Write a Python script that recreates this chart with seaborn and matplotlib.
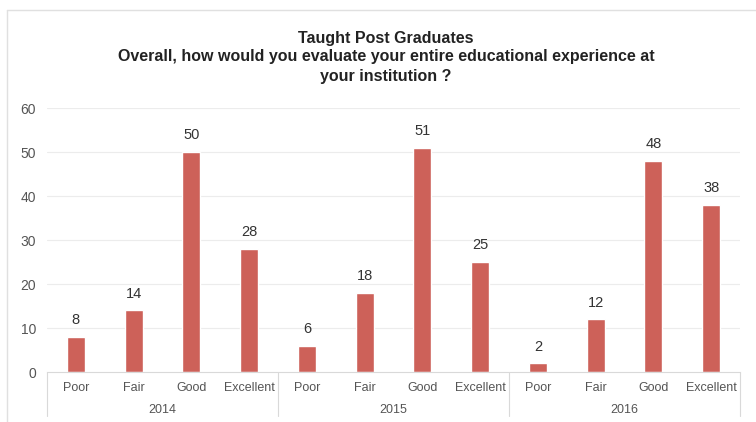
import matplotlib
matplotlib.use("Agg")
import matplotlib.pyplot as plt
import matplotlib.transforms as mtransforms
from matplotlib.lines import Line2D
import seaborn as sns
import pandas as pd

years = ["2014", "2015", "2016"]
ratings = ["Poor", "Fair", "Good", "Excellent"]
values_2014 = [8, 14, 50, 28]
values_2015 = [6, 18, 51, 25]
values_2016 = [2, 12, 48, 38]
y_ticks = [0, 10, 20, 30, 40, 50, 60]
title_lines = [
    "Taught Post Graduates",
    "Overall, how would you evaluate your entire educational experience at",
    "your institution ?",
]

rows = []
for year, vals in zip(years, [values_2014, values_2015, values_2016]):
    for rating, v in zip(ratings, vals):
        rows.append({"slot": f"{year} {rating}", "year": year, "rating": rating, "value": v})
df = pd.DataFrame(rows)
order = list(df["slot"])

sns.set_theme(style="white")
plt.rcParams["font.family"] = ["Liberation Sans", "DejaVu Sans"]

fig = plt.figure(figsize=(7.56, 4.22), dpi=100)
ax = fig.add_axes([47 / 756, (422 - 372) / 422, (740 - 47) / 756, (372 - 108) / 422])

sns.barplot(data=df, x="slot", y="value", order=order, color="#cd6159",
            width=0.31, saturation=1, ax=ax, errorbar=None)

ax.set_xlim(-0.5, len(order) - 0.5)
ax.set_ylim(0, 60)
ax.set_yticks(y_ticks)
ax.set_yticklabels([str(t) for t in y_ticks], color="#555555", fontsize=10)
ax.set_xticks(range(len(order)))
ax.set_xticklabels(list(df["rating"]), color="#555555", fontsize=9)
ax.tick_params(axis="x", length=0, pad=7)
ax.tick_params(axis="y", length=0, pad=8)
ax.set_xlabel("")
ax.set_ylabel("")

for s in ["top", "right", "left"]:
    ax.spines[s].set_visible(False)
ax.spines["bottom"].set_color("#d9d9d9")
ax.spines["bottom"].set_linewidth(0.8)

for t in y_ticks[1:]:
    ax.axhline(t, color="#ececec", linewidth=0.8, zorder=0)

# value labels above each bar
for i, v in enumerate(df["value"]):
    ax.text(i, v + 2.2, str(v), ha="center", va="bottom", fontsize=10.5, color="#333333")

# year groups below the rating labels
trans = mtransforms.blended_transform_factory(ax.transData, ax.transAxes)
for g, year in enumerate(years):
    ax.text(g * 4 + 1.5, -0.145, year, transform=trans, ha="center", va="center",
            fontsize=9, color="#555555")
for x in [-0.5, 3.5, 7.5, 11.5]:
    ax.add_line(Line2D([x, x], [0, -0.165], transform=trans, color="#d9d9d9",
                       linewidth=0.8, clip_on=False))

# title block, one line at a time
for line, ypix in zip(title_lines, [38, 57, 76]):
    fig.text(386 / 756, 1 - ypix / 422, line, ha="center", va="center",
             fontsize=11.5, fontweight="bold", color="#222222")

# light frame lines along the top and left edges
fig.add_artist(Line2D([7 / 756, 7 / 756], [0, 1 - 10 / 422], transform=fig.transFigure,
                      color="#e0e0e0", linewidth=1))
fig.add_artist(Line2D([7 / 756, 1], [1 - 10 / 422, 1 - 10 / 422], transform=fig.transFigure,
                      color="#e0e0e0", linewidth=1))

fig.savefig("out.png", dpi=100)
